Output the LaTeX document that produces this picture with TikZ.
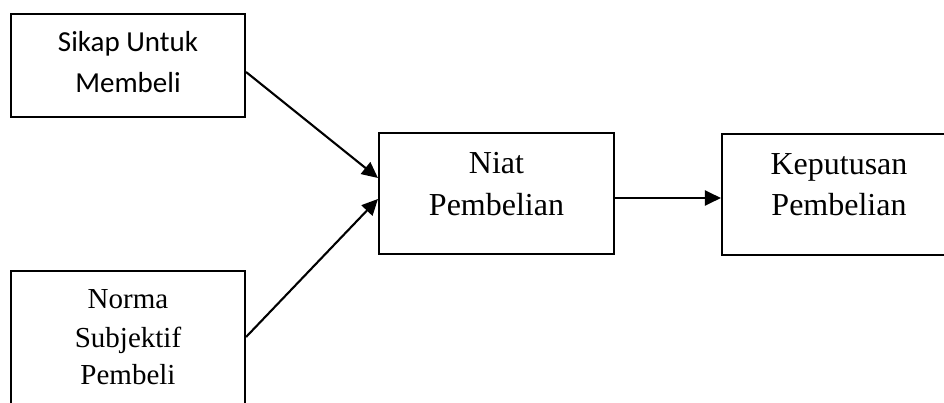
\documentclass[tikz,border=0pt]{standalone}
\usepackage{fontspec}
\setmainfont{Liberation Serif}
\newfontfamily\carlitofont{Carlito}
\usetikzlibrary{arrows.meta,calc}
\begin{document}
\begin{tikzpicture}[x=1pt,y=-1pt,
  boxst/.style={draw=black,line width=2.1pt,rectangle,inner sep=0pt,minimum width=#1},
  lbl/.style={anchor=base,inner sep=0pt},
  arr/.style={line width=2.1pt,-{Triangle[length=16pt,width=15pt]}}]
\clip (0,0) rectangle (944,403);
\fill[white] (0,0) rectangle (944,403);
% boxes
\node[boxst=234pt,minimum height=103pt] (b1) at (128,65.5) {};
\node[boxst=234pt,minimum height=149pt] (b2) at (128,345.5) {};
\node[boxst=235pt,minimum height=121pt] (b3) at (496.5,193.5) {};
\node[boxst=234pt,minimum height=121pt] (b4) at (839,194.5) {};
% texts
\node[lbl,font=\carlitofont\fontsize{29}{35}\selectfont] (t1a) at (128,52) {Sikap Untuk};
\node[lbl,font=\carlitofont\fontsize{29}{35}\selectfont] (t1b) at (128,93) {Membeli};
\node[lbl,font=\fontsize{29}{35}\selectfont] (t2a) at (128,308) {Norma};
\node[lbl,font=\fontsize{29}{35}\selectfont] (t2b) at (128,347) {Subjektif};
\node[lbl,font=\fontsize{29}{35}\selectfont] (t2c) at (128,384) {Pembeli};
\node[lbl,font=\fontsize{32}{38}\selectfont] (t3a) at (496.5,174) {Niat};
\node[lbl,font=\fontsize{32}{38}\selectfont] (t3b) at (496.5,216) {Pembelian};
\node[lbl,font=\fontsize{32}{38}\selectfont] (t4a) at (839,175) {Keputusan};
\node[lbl,font=\fontsize{32}{38}\selectfont] (t4b) at (839,216) {Pembelian};
% connectors
\draw[arr] ([yshift=-6.5pt]b1.east) -- ([yshift=15.5pt]b3.west);
\draw[arr] ([yshift=8.5pt]b2.east) -- ([yshift=-5.5pt]b3.west);
\draw[arr] ([yshift=-4.5pt]b3.east) -- ([yshift=-3.5pt]b4.west);
\end{tikzpicture}
\end{document}
